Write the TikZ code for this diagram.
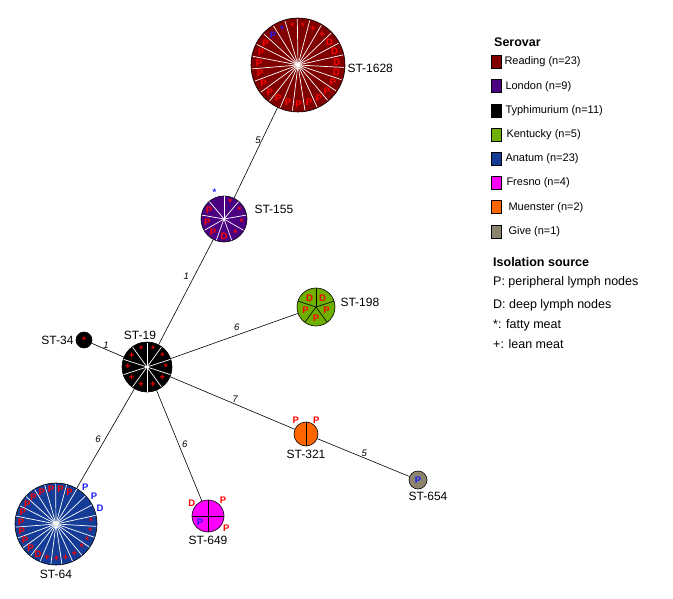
\documentclass[tikz,border=0pt]{standalone}
\usepackage{fontspec}
\setmainfont{Liberation Sans}
\usetikzlibrary{positioning}

\definecolor{reading}{RGB}{128,0,0}
\definecolor{london}{RGB}{75,0,130}
\definecolor{kentucky}{RGB}{110,175,0}
\definecolor{anatum}{RGB}{20,60,150}
\definecolor{fresno}{RGB}{255,0,255}
\definecolor{muenster}{RGB}{255,102,0}
\definecolor{give}{RGB}{140,132,110}
\definecolor{markblue}{RGB}{30,30,255}

\newcommand{\fat}{\raisebox{-0.3em}{*}}

\begin{document}
\begin{tikzpicture}[
    x=1pt, y=-1pt,
    pie/.style={circle, draw=black, line width=0.6pt, inner sep=0pt},
    st/.style={inner sep=1pt, font=\fontsize{12}{14}\selectfont},
    tag/.style={inner sep=0pt, text=red, font=\bfseries\fontsize{9.5}{9.5}\selectfont},
    cut/.style={white, line width=0.7pt},
    bcut/.style={black, line width=0.6pt},
    link/.style={black, line width=0.6pt},
    dist/.style={inner sep=1pt, font=\itshape\fontsize{9.5}{11}\selectfont},
    legbox/.style={rectangle, draw=black, line width=0.6pt, minimum width=10, minimum height=13, inner sep=0pt},
    legtext/.style={inner sep=0pt, anchor=west, font=\fontsize{11}{13}\selectfont},
    head/.style={inner sep=0pt, anchor=west, font=\bfseries\fontsize{12.5}{14}\selectfont}
]
\useasboundingbox (0,0) rectangle (673,599);

% Nodes
\node[pie, minimum size=94, fill=reading] (st1628) at (298,65) {};
\node[pie, minimum size=46, fill=london] (st155) at (224,219) {};
\node[pie, minimum size=50, fill=black] (st19) at (147,367) {};
\node[pie, minimum size=16, fill=black] (st34) at (84,340) {};
\node[pie, minimum size=38, fill=kentucky] (st198) at (316,307) {};
\node[pie, minimum size=24, fill=muenster] (st321) at (306,434) {};
\node[pie, minimum size=18, fill=give] (st654) at (418,480) {};
\node[pie, minimum size=82, fill=anatum] (st64) at (56,524) {};
\node[pie, minimum size=32, fill=fresno] (st649) at (208,516) {};

% Slices
\foreach \k in {0,...,22} {
    \pgfmathsetmacro\ang{137.83-15.652*\k}
    \draw[cut] (st1628.center) -- +(\ang:46pt);
}
\foreach \k in {0,...,8} {
    \pgfmathsetmacro\ang{130-40*\k}
    \draw[cut] (st155.center) -- +(\ang:22.5pt);
}
\foreach \k in {0,...,9} {
    \pgfmathsetmacro\ang{126-36*\k}
    \draw[cut] (st19.center) -- +(\ang:24.5pt);
}
\foreach \k in {0,...,22} {
    \pgfmathsetmacro\ang{121.83-15.652*\k}
    \draw[cut] (st64.center) -- +(\ang:40.5pt);
}
\foreach \k in {0,...,4} {
    \pgfmathsetmacro\ang{90-72*\k}
    \draw[bcut] (st198.center) -- +(\ang:18.7pt);
}
\draw[bcut] (st649.north) -- (st649.south);
\draw[bcut] (st649.west) -- (st649.east);
\draw[bcut] (st321.north) -- (st321.south);

% Isolation source marks
\foreach \m/\c/\r [count=\k from 0] in {P/markblue/39pt, \fat/markblue/39pt, \fat/red/39pt, \fat/red/39pt,
    +/red/39pt, +/red/39pt, D/red/39pt, D/red/39pt, D/red/39pt, D/red/39pt,
    P/red/39pt, P/red/39pt, P/red/39pt, P/red/39pt, P/red/39pt, P/red/39pt, P/red/39pt,
    P/red/39pt, P/red/39pt, P/red/39pt, P/red/39pt, P/red/39pt, P/red/39pt} {
    \pgfmathsetmacro\ang{130-15.652*\k}
    \node[tag, text=\c] (m1628-\k) at ([shift={(\ang:\r)}]st1628.center) {\m};
}
\foreach \m/\c/\r [count=\k from 0] in {\fat/markblue/28pt, \fat/red/18pt, \fat/red/18pt, \fat/red/18pt,
    \fat/red/18pt, D/red/17pt, P/red/17pt, P/red/17pt, P/red/17pt} {
    \pgfmathsetmacro\ang{110-40*\k}
    \node[tag, text=\c] (m155-\k) at ([shift={(\ang:\r)}]st155.center) {\m};
}
\foreach \m [count=\k from 0] in {\fat,\fat,\fat,\fat,+,+,+,+,+,+} {
    \pgfmathsetmacro\ang{108-36*\k}
    \node[tag] (m19-\k) at ([shift={(\ang:19pt)}]st19.center) {\m};
}
\foreach \m/\c/\r [count=\k from 0] in {P/red/35pt, P/red/35pt, P/red/35pt, P/red/35pt,
    P/markblue/47pt, P/markblue/47pt, D/markblue/47pt, \fat/red/35pt, \fat/red/35pt, \fat/red/35pt, \fat/red/35pt,
    +/red/35pt, +/red/35pt, +/red/35pt, +/red/35pt, D/red/35pt,
    P/red/35pt, P/red/35pt, P/red/35pt, P/red/35pt, P/red/35pt, P/red/35pt, P/red/35pt} {
    \pgfmathsetmacro\ang{114-15.652*\k}
    \node[tag, text=\c] (m64-\k) at ([shift={(\ang:\r)}]st64.center) {\m};
}
\foreach \a/\m [count=\k from 0] in {126/D, 54/D, -18/P, -90/P, -162/P} {
    \node[tag] (m198-\k) at ([shift={(\a:11pt)}]st198.center) {\m};
}
\foreach \a/\m/\c/\r [count=\k from 0] in {141/D/red/21pt, 47/P/red/22pt, -143/P/markblue/10pt, -34/P/red/22pt} {
    \node[tag, text=\c] (m649-\k) at ([shift={(\a:\r)}]st649.center) {\m};
}
\foreach \a [count=\k from 0] in {127, 53} {
    \node[tag] (m321-\k) at ([shift={(\a:17pt)}]st321.center) {P};
}
\node[tag, text=markblue] (m654) at (st654.center) {P};
\node[tag] (m34) at (st34.center) {\fat};

% Labels
\node[st, right=1pt of st1628, yshift=-3pt] (l1628) {ST-1628};
\node[st, right=6pt of st155, yshift=10pt] (l155) {ST-155};
\node[st, above=1pt of st19, xshift=-7pt] (l19) {ST-19};
\node[st, left=1pt of st34] (l34) {ST-34};
\node[st, right=4pt of st198, yshift=5pt] (l198) {ST-198};
\node[st, below=3pt of st321] (l321) {ST-321};
\node[st, below=2pt of st654, xshift=10pt] (l654) {ST-654};
\node[st, below=4pt of st64] (l64) {ST-64};
\node[st, below=3pt of st649] (l649) {ST-649};

% Connections
\draw[link] (st1628) -- node[dist, pos=0.36, left] (d1) {5} (st155);
\draw[link] (st155) -- node[dist, pos=0.35, left=4pt] (d2) {1} (st19);
\draw[link] (st19) -- node[dist, pos=0.55, above] (d3) {1} (st34);
\draw[link] (st19) -- node[dist, pos=0.52, above=3pt] (d4) {6} (st198);
\draw[link] (st19) -- node[dist, pos=0.52, above] (d5) {7} (st321);
\draw[link] (st321) -- node[dist, pos=0.51, above] (d6) {5} (st654);
\draw[link] (st19) -- node[dist, pos=0.51, left=3pt] (d7) {6} (st64);
\draw[link] (st19) -- node[dist, pos=0.49, right=2pt] (d8) {6} (st649);

% Legend
\node[head] (serovar) at (494,42) {Serovar};
\node[legbox, fill=reading] (kreading) at (496,62) {};
\node[legtext, right=3pt of kreading] (treading) {Reading (n=23)};
\node[legbox, fill=london, below=10.6pt of kreading] (klondon) {};
\node[legtext, right=4pt of klondon] (tlondon) {London (n=9)};
\node[legbox, fill=black, below=10.6pt of klondon] (ktyphi) {};
\node[legtext, right=4pt of ktyphi] (ttyphi) {Typhimurium (n=11)};
\node[legbox, fill=kentucky, below=10.6pt of ktyphi] (kkentucky) {};
\node[legtext, right=5pt of kkentucky] (tkentucky) {Kentucky (n=5)};
\node[legbox, fill=anatum, below=10.6pt of kkentucky] (kanatum) {};
\node[legtext, right=4pt of kanatum] (tanatum) {Anatum (n=23)};
\node[legbox, fill=fresno, below=10.6pt of kanatum] (kfresno) {};
\node[legtext, right=5pt of kfresno] (tfresno) {Fresno (n=4)};
\node[legbox, fill=muenster, below=10.6pt of kfresno] (kmuenster) {};
\node[legtext, right=7pt of kmuenster] (tmuenster) {Muenster (n=2)};
\node[legbox, fill=give, below=10.6pt of kmuenster] (kgive) {};
\node[legtext, right=7pt of kgive] (tgive) {Give (n=1)};

\node[head] (isolation) at (493,262) {Isolation source};
\node[legtext, font=\fontsize{12.5}{14}\selectfont, below=20pt of isolation.west, anchor=west] (srcp) {P: peripheral lymph nodes};
\node[legtext, font=\fontsize{12.5}{14}\selectfont, below=23pt of srcp.west, anchor=west] (srcd) {D: deep lymph nodes};
\node[legtext, font=\fontsize{12.5}{14}\selectfont, below=20pt of srcd.west, anchor=west] (srcfat) {*: fatty meat};
\node[legtext, font=\fontsize{12.5}{14}\selectfont, below=19pt of srcfat.west, anchor=west] (srclean) {+: lean meat};

\end{tikzpicture}
\end{document}
